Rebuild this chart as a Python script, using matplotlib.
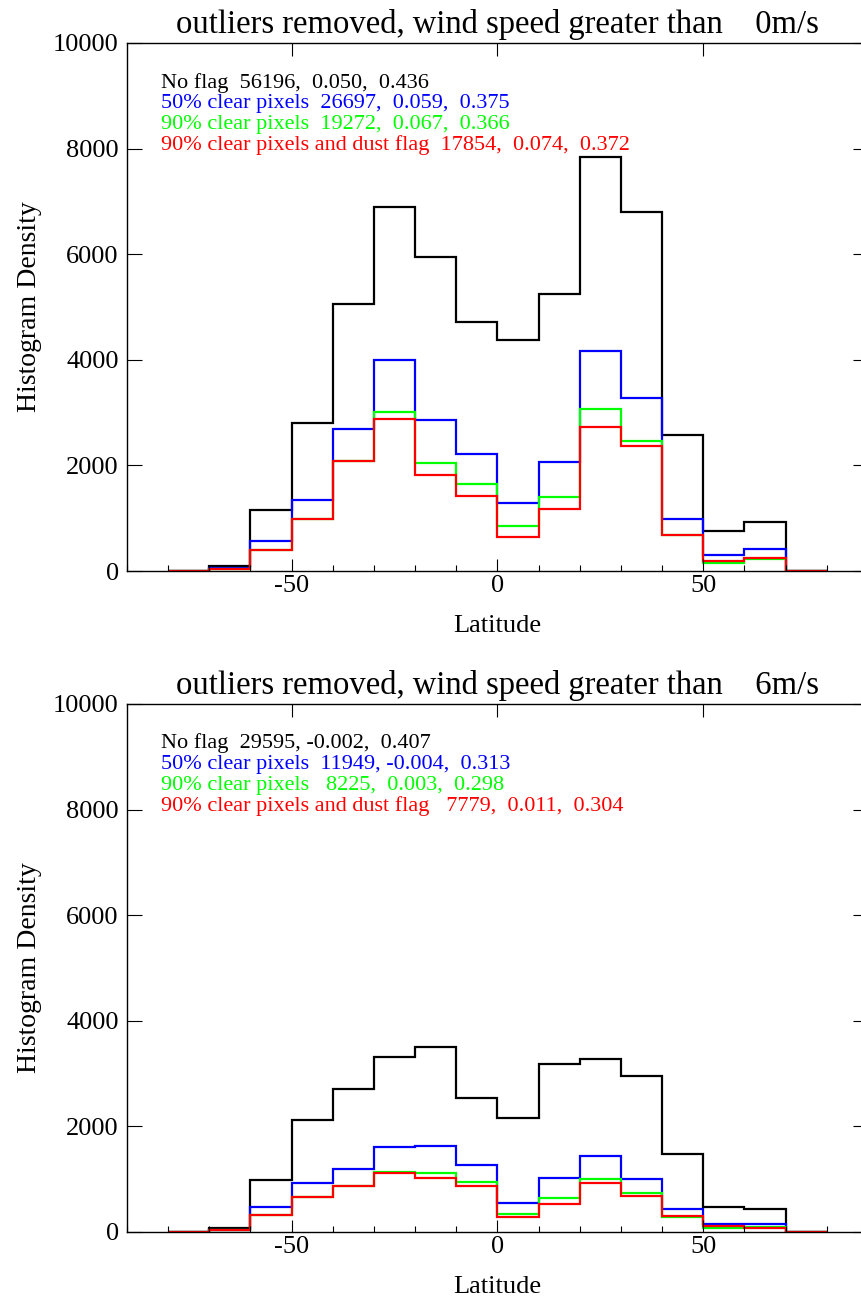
import matplotlib
matplotlib.use("Agg")
from matplotlib import pyplot as plt
from matplotlib.ticker import MultipleLocator, FixedLocator

plt.rcParams['font.family'] = ['Liberation Serif', 'DejaVu Serif']
plt.rcParams['axes.unicode_minus'] = False

# latitude bin edges (10 degree bins)
lat_edges = [-80, -70, -60, -50, -40, -30, -20, -10, 0, 10, 20, 30, 40, 50, 60, 70, 80]

# wind speed > 0 m/s
top_noflag = [0, 90, 1150, 2800, 5055, 6900, 5940, 4715, 4370, 5245, 7850, 6805, 2570, 760, 925, 0]
top_clear50 = [0, 50, 575, 1350, 2690, 3990, 2855, 2225, 1295, 2060, 4175, 3270, 980, 300, 417, 0]
top_clear90 = [0, 40, 400, 985, 2085, 3005, 2040, 1650, 845, 1395, 3065, 2455, 690, 160, 230, 0]
top_dust = [0, 40, 390, 985, 2085, 2870, 1825, 1415, 640, 1180, 2730, 2365, 680, 195, 240, 0]
top_text = ["No flag  56196,  0.050,  0.436",
            "50% clear pixels  26697,  0.059,  0.375",
            "90% clear pixels  19272,  0.067,  0.366",
            "90% clear pixels and dust flag  17854,  0.074,  0.372"]

# wind speed > 6 m/s
bot_noflag = [0, 75, 980, 2120, 2710, 3320, 3495, 2540, 2160, 3190, 3280, 2945, 1485, 465, 430, 0]
bot_clear50 = [0, 40, 465, 920, 1200, 1615, 1630, 1265, 555, 1015, 1445, 995, 432, 152, 155, 0]
bot_clear90 = [0, 30, 330, 665, 870, 1140, 1110, 940, 345, 638, 995, 735, 280, 80, 100, 0]
bot_dust = [0, 38, 320, 655, 875, 1115, 1030, 865, 285, 525, 918, 690, 294, 110, 80, 0]
bot_text = ["No flag  29595, -0.002,  0.407",
            "50% clear pixels  11949, -0.004,  0.313",
            "90% clear pixels   8225,  0.003,  0.298",
            "90% clear pixels and dust flag   7779,  0.011,  0.304"]

colors = ['black', '#0000ff', '#00ff00', '#ff0000']

fig = plt.figure(figsize=(8.62, 12.99), dpi=100)
ax_top = fig.add_axes([0.1473, 0.5604, 0.8596, 0.4065])
ax_bot = fig.add_axes([0.1473, 0.0516, 0.8596, 0.4065])


def draw_panel(ax, series, lines, speed):
    for vals, c in zip(series, colors):
        ax.stairs(vals, lat_edges, baseline=None, color=c, lw=1.6)

    ax.set_xlim(-90, 90)
    ax.set_ylim(0, 10000)
    ax.xaxis.set_major_locator(FixedLocator([-50, 0, 50]))
    ax.xaxis.set_minor_locator(MultipleLocator(10))
    ax.yaxis.set_major_locator(MultipleLocator(2000))
    ax.tick_params(axis='x', which='major', direction='in', length=9, width=0.8,
                   top=True, pad=3, labelsize=19)
    ax.tick_params(axis='x', which='minor', direction='in', length=4.5, width=0.8, top=False)
    ax.tick_params(axis='y', which='major', direction='in', length=10.5, width=0.8,
                   right=True, pad=6, labelsize=19)
    for sp in ax.spines.values():
        sp.set_linewidth(1.0)

    ax.set_xlabel("Latitude", fontsize=19, labelpad=13)
    ax.set_ylabel("Histogram Density", fontsize=20, labelpad=8)
    ax.set_title("outliers removed, wind speed greater than    %dm/s" % speed,
                 fontsize=23.5, pad=7)

    # legend lines with counts and stats
    for i, (txt, c) in enumerate(zip(lines, colors)):
        ax.text(0.046, 0.925 - i * 0.0395, txt, color=c, fontsize=16,
                transform=ax.transAxes, ha='left', va='center')


draw_panel(ax_top, [top_noflag, top_clear50, top_clear90, top_dust], top_text, 0)
draw_panel(ax_bot, [bot_noflag, bot_clear50, bot_clear90, bot_dust], bot_text, 6)

fig.savefig("out.png", dpi=100)
